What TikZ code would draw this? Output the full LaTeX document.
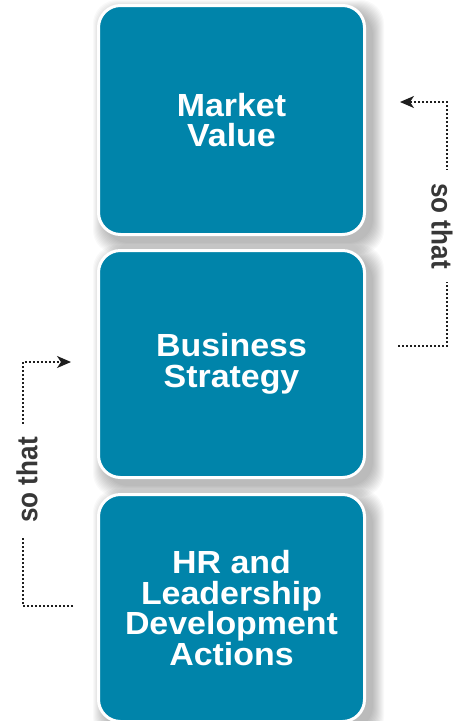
\documentclass[tikz,border=0pt]{standalone}
\usepackage{fontspec}
\setmainfont{Liberation Sans}
\newfontfamily\boxfont{Liberation Sans}[FakeStretch=1.06]
\newfontfamily\lblfont{Liberation Sans}[FakeStretch=0.9]
\usetikzlibrary{arrows.meta}
\definecolor{tealbox}{RGB}{0,132,170}
\definecolor{dotcol}{RGB}{30,30,30}
\definecolor{lblcol}{RGB}{55,55,55}
\pgfdeclarelayer{bg}
\pgfsetlayers{bg,main}
\tikzset{
  box/.style={draw=white, line width=3pt, fill=tealbox, rounded corners=22pt,
    minimum width=266pt, text=white, align=center,
    font=\boxfont\bfseries\fontsize{32}{30.5}\selectfont},
  conn/.style={draw=dotcol, line width=1.8pt, dash pattern=on 1.8pt off 2.2pt,
    -{Stealth[length=14pt,width=12pt,inset=4pt]}},
  sothat/.style={fill=white, text=lblcol, inner xsep=13pt, inner ysep=1pt,
    font=\lblfont\bfseries\fontsize{29}{29}\selectfont}
}
\begin{document}
\begin{tikzpicture}[x=1pt,y=-1pt]
\useasboundingbox (0,0) rectangle (454,721);
\node[box, minimum height=229pt] (mv) at (231.5,120) {Market\\Value};
\node[box, minimum height=227pt] (bs) at (231.5,364) {Business\\Strategy};
\node[box, minimum height=227pt] (hr) at (231.5,608) {HR and\\Leadership\\Development\\Actions};
\begin{pgfonlayer}{bg}
  \fill[white] (0,0) rectangle (454,721);
  \foreach \n in {mv,bs,hr}{
    \foreach \i in {0,...,11}{
      \fill[black, opacity=0.024, rounded corners=24pt]
        ([shift={(7-\i,7-\i)}]\n.north west) rectangle ([shift={(7+\i,7+\i)}]\n.south east);
    }
  }
\end{pgfonlayer}
% right connector
\coordinate (rs) at (398,346);
\coordinate (rc) at (447,346);
\coordinate (rt) at (447,102);
\coordinate (re) at (400,102);
\draw[conn] (rs) -- (rc) -- (rt) -- (re);
\node[sothat, rotate=-90] (st1) at (442,226) {so that};
% left connector
\coordinate (ls) at (73,606);
\coordinate (lc) at (23,606);
\coordinate (lt) at (23,362);
\coordinate (le) at (71,362);
\draw[conn] (ls) -- (lc) -- (lt) -- (le);
\node[sothat, rotate=90] (st2) at (27,480) {so that};
\end{tikzpicture}
\end{document}
